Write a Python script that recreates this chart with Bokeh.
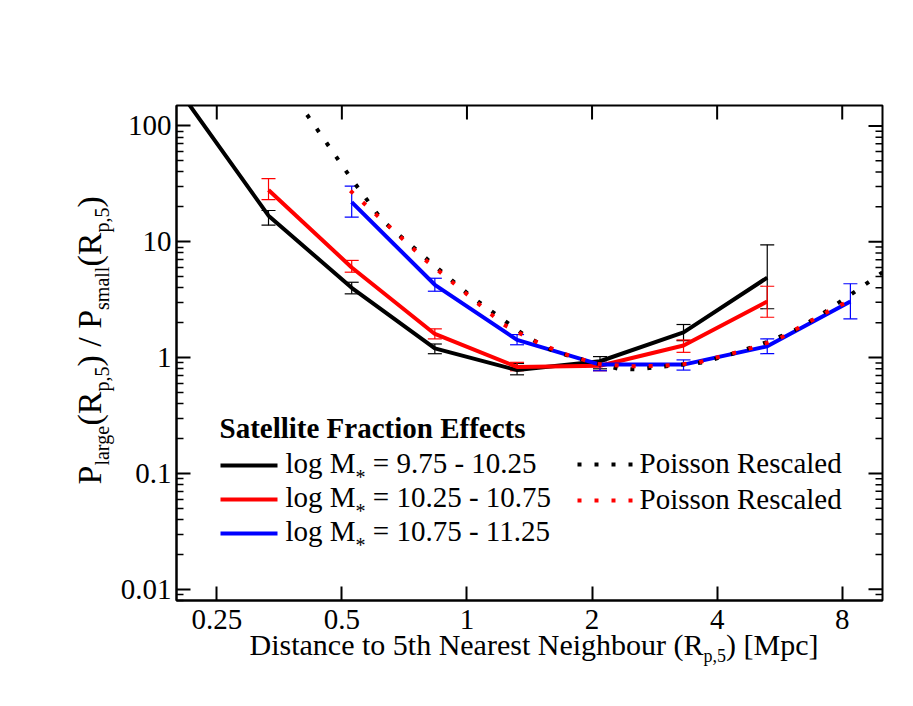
import math
from bokeh.plotting import figure
from bokeh.layouts import row, column
from bokeh.models import Range1d, FixedTicker, Label, Whisker, TeeHead, ColumnDataSource, Arrow
from bokeh.embed import file_html
from bokeh.resources import INLINE

# ---------------- data ----------------
x_ticks = [0.25, 0.5, 1, 2, 4, 8]
x_tick_labels = ["0.25", "0.5", "1", "2", "4", "8"]
y_ticks = [0.01, 0.1, 1, 10, 100]
y_tick_labels = ["0.01", "0.1", "1", "10", "100"]

black_x = [0.21, 0.333, 0.528, 0.837, 1.32, 2.09, 3.32, 5.28]
black_y = [170, 16.8, 4.0, 1.20, 0.78, 0.93, 1.65, 4.9]
black_lo = [None, 13.9, 3.55, 1.08, 0.71, 0.80, 1.40, 2.64]
black_hi = [None, 18.6, 4.47, 1.31, 0.89, 1.02, 1.93, 9.4]

red_x = [0.333, 0.528, 0.837, 1.32, 2.09, 3.32, 5.28]
red_y = [28.0, 6.0, 1.60, 0.83, 0.85, 1.27, 3.05]
red_lo = [23.1, 5.46, 1.45, 0.77, 0.77, 1.11, 2.23]
red_hi = [35.0, 6.9, 1.77, 0.91, 0.94, 1.42, 4.13]

blue_x = [0.528, 0.837, 1.32, 2.09, 3.32, 5.28, 8.37]
blue_y = [22.0, 4.25, 1.42, 0.87, 0.87, 1.25, 3.05]
blue_lo = [16.3, 3.74, 1.29, 0.77, 0.78, 1.08, 2.16]
blue_hi = [30.2, 4.84, 1.58, 0.94, 0.955, 1.45, 4.34]

pois_black_x = [0.333, 0.40, 0.524, 0.625, 0.824, 1.02, 1.38, 1.62, 1.93, 2.32,
                2.56, 3.09, 3.71, 4.47, 5.33, 6.29, 7.43, 8.66, 10.0]
pois_black_y = [380, 146, 36, 15.3, 6.5, 3.4, 1.55, 1.13, 0.94, 0.80,
                0.79, 0.85, 0.91, 1.11, 1.38, 1.79, 2.60, 3.79, 5.45]

pois_red_x = [0.524, 0.793, 1.225, 1.447, 1.709, 2.06, 2.47, 2.97, 3.58, 3.93,
              4.68, 5.63, 6.61, 7.78, 8.37]
pois_red_y = [27.6, 7.0, 1.93, 1.40, 1.08, 0.88, 0.84, 0.85, 0.90, 0.99,
              1.165, 1.45, 2.0, 2.76, 3.07]

legend_title = "Satellite Fraction Effects"
mass_ranges = ["9.75 - 10.25", "10.25 - 10.75", "10.75 - 11.25"]
pois_label = "Poisson Rescaled"

# ---------------- geometry (page pixel coordinates) ----------------
TOTAL_W, TOTAL_H = 897, 690
YLAB_W = 116                 # strip left of the plot holding the y title
MAIN_H = 648                 # plot height; strip below holds the x title
XSHIFT = 20                  # x-title strip is slid up by this much (transparent overlap)
FL, FT, FR, FB = 176, 105, 882, 600   # frame edges on the page
XMIN, XMAX, YMIN, YMAX = 0.2, 10.0, 0.008, 150.0
FONT = "Liberation Serif"
MID = 0.3375                 # (ascent - descent) / 2 of the serif font, in em

def no_align(f):
    if "frame_align" in f.properties():
        f.frame_align = False
    return f

p = no_align(figure(width=TOTAL_W - YLAB_W, height=MAIN_H, x_axis_type="log", y_axis_type="log",
                    x_range=Range1d(XMIN, XMAX), y_range=Range1d(YMIN, YMAX),
                    output_backend="svg", toolbar_location=None,
                    min_border_left=FL - YLAB_W, min_border_right=TOTAL_W - FR,
                    min_border_top=FT, min_border_bottom=MAIN_H - FB))
p.grid.visible = False
p.outline_line_color = "black"
p.outline_line_width = 2
p.background_fill_color = "white"
p.border_fill_color = "white"

ymin_ticks = [m * d for d in [0.001, 0.01, 0.1, 1, 10, 100] for m in range(2, 10)]
p.xaxis.ticker = FixedTicker(ticks=x_ticks, minor_ticks=[])
p.yaxis.ticker = FixedTicker(ticks=y_ticks, minor_ticks=ymin_ticks)
for ax in [p.xaxis[0], p.yaxis[0]]:
    ax.axis_line_width = 2
    ax.axis_line_color = "black"
    ax.major_tick_in = 14
    ax.major_tick_out = 0
    ax.minor_tick_in = 7
    ax.minor_tick_out = 0
    ax.major_tick_line_width = 2
    ax.minor_tick_line_width = 1.5
    ax.major_tick_line_color = "black"
    ax.minor_tick_line_color = "black"
    ax.major_label_text_font = FONT
    ax.major_label_text_font_size = "29px"
    ax.major_label_text_color = "black"
p.xaxis.minor_tick_line_color = None
p.xaxis.major_label_standoff = 9
p.yaxis.major_label_standoff = 5
p.xaxis.major_label_overrides = {t: l for t, l in zip(x_ticks, x_tick_labels)}
p.yaxis.major_label_overrides = {t: l for t, l in zip(y_ticks, y_tick_labels)}

# mirrored inward ticks on the top and right edges (lengths in px converted to data)
ppo = (FR - FL) / math.log2(XMAX / XMIN)      # px per octave
ppd = (FB - FT) / math.log10(YMAX / YMIN)     # px per decade
top_y1 = YMAX / 10 ** (14 / ppd)
p.segment(x0=x_ticks, y0=[YMAX] * len(x_ticks), x1=x_ticks, y1=[top_y1] * len(x_ticks),
          line_color="black", line_width=2)
p.segment(x0=[XMAX] * len(y_ticks), y0=y_ticks, x1=[XMAX / 2 ** (14 / ppo)] * len(y_ticks),
          y1=y_ticks, line_color="black", line_width=2)
rmy = [t for t in ymin_ticks if YMIN < t < YMAX]
p.segment(x0=[XMAX] * len(rmy), y0=rmy, x1=[XMAX / 2 ** (7 / ppo)] * len(rmy), y1=rmy,
          line_color="black", line_width=1.5)

# ---------------- error bars and curves ----------------
def add_err(xs, lo, hi, color):
    src = ColumnDataSource(dict(base=[x for x, l in zip(xs, lo) if l is not None],
                                lower=[l for l in lo if l is not None],
                                upper=[h for h in hi if h is not None]))
    p.add_layout(Whisker(source=src, base="base", lower="lower", upper="upper",
                         dimension="height", line_color=color, line_width=1.2,
                         upper_head=TeeHead(size=14, line_color=color, line_width=1.2),
                         lower_head=TeeHead(size=14, line_color=color, line_width=1.2)))

add_err(black_x, black_lo, black_hi, "black")
add_err(red_x, red_lo, red_hi, "#ff0000")
add_err(blue_x, blue_lo, blue_hi, "#0000ff")

p.line(black_x, black_y, line_color="black", line_width=4)
p.line(red_x, red_y, line_color="#ff0000", line_width=4)
p.line(blue_x, blue_y, line_color="#0000ff", line_width=4)
p.line(pois_black_x, pois_black_y, line_color="black", line_width=4, line_dash="4 13")
p.line(pois_red_x, pois_red_y, line_color="#ff0000", line_width=4, line_dash="4 13")

# ---------------- text helpers ----------------
W_REG = {' ': 250, '(': 333, ')': 333, '*': 500, ',': 250, '-': 333, '.': 250, '/': 278,
         '=': 564, '[': 333, ']': 333,
         'A': 722, 'D': 722, 'E': 611, 'F': 556, 'M': 889, 'N': 722, 'P': 556, 'R': 667, 'S': 556,
         'a': 444, 'b': 500, 'c': 444, 'd': 500, 'e': 444, 'f': 333, 'g': 500, 'h': 500,
         'i': 278, 'l': 278, 'm': 778, 'n': 500, 'o': 500, 'p': 500, 'r': 333, 's': 389,
         't': 278, 'u': 500}
W_BOLD = {' ': 250, 'S': 556, 'F': 611, 'E': 667, 'a': 500, 'c': 444, 'e': 444, 'f': 333,
          'i': 278, 'l': 278, 'n': 556, 'o': 500, 'r': 444, 's': 389, 't': 333}

def tw(s, size, bold=False):
    tab = W_BOLD if bold else W_REG
    return sum(tab.get(c, 500) for c in s) * size / 1000.0

def rich(fig, parts, x0, y0, vertical=False, frame_rel=False):
    """parts: (text, size_px, drop_px, bold); x0, y0: page px of the baseline start."""
    adv = 0.0
    for text, size, drop, bold in parts:
        lead = len(text) - len(text.lstrip(" "))
        adv += tw(" " * lead, size, bold)
        t = text.strip(" ")
        up = MID * size          # anchor sits at the middle of the text box
        if vertical:
            px, py, ang = x0 + drop - up, y0 - adv, math.pi / 2
        else:
            px, py, ang = x0 + adv, y0 + drop - up, 0.0
        if frame_rel:
            kw = dict(x=px - FL, y=FB - py, x_units="screen", y_units="screen")
        else:
            kw = dict(x=px, y=py)
        fig.add_layout(Label(text=t, text_font=FONT, text_font_size=f"{size}px",
                             text_font_style="bold" if bold else "normal",
                             text_baseline="middle", text_align="left",
                             angle=ang, text_color="black", **kw))
        adv += tw(text[lead:], size, bold)

def strip_fig(w, h, xr, yr, borders):
    f = figure(width=w, height=h, x_range=Range1d(*xr), y_range=Range1d(*yr),
               x_axis_location=None, y_axis_location=None, output_backend="svg",
               toolbar_location=None, title=None,
               min_border_left=borders[0], min_border_right=borders[1],
               min_border_top=borders[2], min_border_bottom=borders[3])
    f.outline_line_color = None
    f.grid.visible = False
    f.background_fill_color = None
    f.border_fill_color = None
    return no_align(f)

# y title strip: frame spans page y 105..600, data coordinates equal page pixels
fy = strip_fig(YLAB_W, TOTAL_H, (0, YLAB_W), (FB, FT), (0, 0, FT, TOTAL_H - FB))
rich(fy, [("P", 34, 0, False), ("large", 20, 8, False), ("(R", 34, 0, False), ("p,5", 20, 8, False),
          (") / P", 34, 0, False), ("small", 20, 8, False), ("(R", 34, 0, False),
          ("p,5", 20, 8, False), (")", 34, 0, False)], 100, 484, vertical=True)

# x title strip: placed at page y MAIN_H..690, slid up by XSHIFT
XS_TOP = MAIN_H - XSHIFT
XS_BOT = TOTAL_H - XSHIFT
fx = strip_fig(TOTAL_W - YLAB_W, TOTAL_H - MAIN_H, (FL, FR), (XS_BOT, XS_TOP),
               (FL - YLAB_W, TOTAL_W - FR, 0, 0))
fx.styles = {"transform": f"translateY(-{XSHIFT}px)"}
rich(fx, [("Distance to 5th Nearest Neighbour (R", 30, 0, False), ("p,5", 18, 8, False),
          (") [Mpc]", 30, 0, False)], 249, 654)

# legend inside the frame
rich(p, [(legend_title, 29, 0, True)], 219, 437, frame_rel=True)
colors = ["black", "#ff0000", "#0000ff"]
row_y = [465, 499, 533]
for c, yy, mr in zip(colors, row_y, mass_ranges):
    p.add_layout(Arrow(end=None, x_start=220 - FL, y_start=FB - yy, x_end=277 - FL, y_end=FB - yy,
                       start_units="screen", end_units="screen", line_color=c, line_width=4))
    rich(p, [("log M", 29, 0, False), ("*", 20, 11, False), (" = " + mr, 29, 0, False)],
         285, yy + 7, frame_rel=True)
for c, yy in zip(colors[:2], [464, 500]):
    p.add_layout(Arrow(end=None, x_start=577 - FL, y_start=FB - yy, x_end=632 - FL, y_end=FB - yy,
                       start_units="screen", end_units="screen", line_color=c, line_width=4,
                       line_dash="4 13"))
    rich(p, [(pois_label, 29, 0, False)], 639, yy + 8, frame_rel=True)

layout = row(fy, column(p, fx))
open("out.html", "w").write(file_html(layout, INLINE))
